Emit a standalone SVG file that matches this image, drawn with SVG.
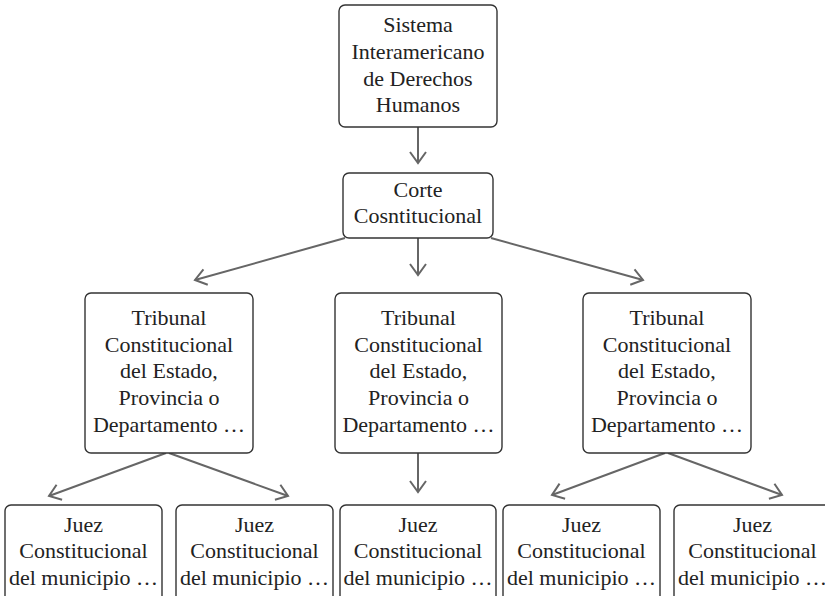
<svg xmlns="http://www.w3.org/2000/svg" width="825" height="596" viewBox="0 0 825 596">
<style>
.box{fill:#fff;stroke:#333;stroke-width:1.4}
.c{stroke:#666;stroke-width:2;fill:none}
</style>
<defs>
<marker id="a" markerUnits="userSpaceOnUse" markerWidth="24" markerHeight="24" refX="12" refY="12" orient="auto" overflow="visible">
<path d="M1,4 L12,12 L1,20" fill="none" stroke="#666" stroke-width="2"/>
</marker>
</defs>
<rect width="825" height="596" fill="#fff"/>
<g id="connectors">
<line class="c" x1="418" y1="127" x2="418" y2="163" marker-end="url(#a)"/>
<line class="c" x1="345" y1="238" x2="195" y2="280" marker-end="url(#a)"/>
<line class="c" x1="418" y1="238" x2="418" y2="275" marker-end="url(#a)"/>
<line class="c" x1="491" y1="238" x2="643" y2="280" marker-end="url(#a)"/>
<line class="c" x1="166" y1="453" x2="49" y2="496" marker-end="url(#a)"/>
<line class="c" x1="169" y1="453" x2="288" y2="496" marker-end="url(#a)"/>
<line class="c" x1="418" y1="453" x2="418" y2="492" marker-end="url(#a)"/>
<line class="c" x1="665" y1="453" x2="552" y2="495" marker-end="url(#a)"/>
<line class="c" x1="668" y1="453" x2="782" y2="495" marker-end="url(#a)"/>
</g>
<g id="n-sistema">
<rect class="box" x="339" y="5" width="158" height="122" rx="6"/>
<text font-family="Liberation Serif" font-size="22" fill="#222" text-anchor="middle" x="418" y="32">Sistema</text>
<text font-family="Liberation Serif" font-size="22" fill="#222" text-anchor="middle" x="418" y="59">Interamericano</text>
<text font-family="Liberation Serif" font-size="22" fill="#222" text-anchor="middle" x="418" y="86">de Derechos</text>
<text font-family="Liberation Serif" font-size="22" fill="#222" text-anchor="middle" x="418" y="112">Humanos</text>
</g>
<g id="n-corte">
<rect class="box" x="343" y="173" width="150" height="65" rx="6"/>
<text font-family="Liberation Serif" font-size="22" fill="#222" text-anchor="middle" x="418" y="197">Corte</text>
<text font-family="Liberation Serif" font-size="22" fill="#222" text-anchor="middle" x="418" y="223">Cosntitucional</text>
</g>
<g id="n-trib1">
<rect class="box" x="85" y="293" width="168" height="160" rx="6"/>
<text font-family="Liberation Serif" font-size="22" fill="#222" text-anchor="middle" x="169" y="325">Tribunal</text>
<text font-family="Liberation Serif" font-size="22" fill="#222" text-anchor="middle" x="169" y="352">Constitucional</text>
<text font-family="Liberation Serif" font-size="22" fill="#222" text-anchor="middle" x="169" y="378">del Estado,</text>
<text font-family="Liberation Serif" font-size="22" fill="#222" text-anchor="middle" x="169" y="405">Provincia o</text>
<text font-family="Liberation Serif" font-size="22" fill="#222" text-anchor="middle" x="169" y="432">Departamento …</text>
</g>
<g id="n-trib2">
<rect class="box" x="335" y="293" width="167" height="160" rx="6"/>
<text font-family="Liberation Serif" font-size="22" fill="#222" text-anchor="middle" x="418.5" y="325">Tribunal</text>
<text font-family="Liberation Serif" font-size="22" fill="#222" text-anchor="middle" x="418.5" y="352">Constitucional</text>
<text font-family="Liberation Serif" font-size="22" fill="#222" text-anchor="middle" x="418.5" y="378">del Estado,</text>
<text font-family="Liberation Serif" font-size="22" fill="#222" text-anchor="middle" x="418.5" y="405">Provincia o</text>
<text font-family="Liberation Serif" font-size="22" fill="#222" text-anchor="middle" x="418.5" y="432">Departamento …</text>
</g>
<g id="n-trib3">
<rect class="box" x="583" y="293" width="168" height="160" rx="6"/>
<text font-family="Liberation Serif" font-size="22" fill="#222" text-anchor="middle" x="667" y="325">Tribunal</text>
<text font-family="Liberation Serif" font-size="22" fill="#222" text-anchor="middle" x="667" y="352">Constitucional</text>
<text font-family="Liberation Serif" font-size="22" fill="#222" text-anchor="middle" x="667" y="378">del Estado,</text>
<text font-family="Liberation Serif" font-size="22" fill="#222" text-anchor="middle" x="667" y="405">Provincia o</text>
<text font-family="Liberation Serif" font-size="22" fill="#222" text-anchor="middle" x="667" y="432">Departamento …</text>
</g>
<g id="n-juez1">
<rect class="box" x="5" y="505" width="157" height="110" rx="6"/>
<text font-family="Liberation Serif" font-size="22" fill="#222" text-anchor="middle" x="83.5" y="532">Juez</text>
<text font-family="Liberation Serif" font-size="22" fill="#222" text-anchor="middle" x="83.5" y="558">Constitucional</text>
<text font-family="Liberation Serif" font-size="22" fill="#222" text-anchor="middle" x="83.5" y="585">del municipio …</text>
</g>
<g id="n-juez2">
<rect class="box" x="176" y="505" width="157" height="110" rx="6"/>
<text font-family="Liberation Serif" font-size="22" fill="#222" text-anchor="middle" x="254.5" y="532">Juez</text>
<text font-family="Liberation Serif" font-size="22" fill="#222" text-anchor="middle" x="254.5" y="558">Constitucional</text>
<text font-family="Liberation Serif" font-size="22" fill="#222" text-anchor="middle" x="254.5" y="585">del municipio …</text>
</g>
<g id="n-juez3">
<rect class="box" x="340" y="505" width="156" height="110" rx="6"/>
<text font-family="Liberation Serif" font-size="22" fill="#222" text-anchor="middle" x="418" y="532">Juez</text>
<text font-family="Liberation Serif" font-size="22" fill="#222" text-anchor="middle" x="418" y="558">Constitucional</text>
<text font-family="Liberation Serif" font-size="22" fill="#222" text-anchor="middle" x="418" y="585">del municipio …</text>
</g>
<g id="n-juez4">
<rect class="box" x="503" y="505" width="157" height="110" rx="6"/>
<text font-family="Liberation Serif" font-size="22" fill="#222" text-anchor="middle" x="581.5" y="532">Juez</text>
<text font-family="Liberation Serif" font-size="22" fill="#222" text-anchor="middle" x="581.5" y="558">Constitucional</text>
<text font-family="Liberation Serif" font-size="22" fill="#222" text-anchor="middle" x="581.5" y="585">del municipio …</text>
</g>
<g id="n-juez5">
<rect class="box" x="674" y="505" width="157" height="110" rx="6"/>
<text font-family="Liberation Serif" font-size="22" fill="#222" text-anchor="middle" x="752.5" y="532">Juez</text>
<text font-family="Liberation Serif" font-size="22" fill="#222" text-anchor="middle" x="752.5" y="558">Constitucional</text>
<text font-family="Liberation Serif" font-size="22" fill="#222" text-anchor="middle" x="752.5" y="585">del municipio …</text>
</g>
</svg>
